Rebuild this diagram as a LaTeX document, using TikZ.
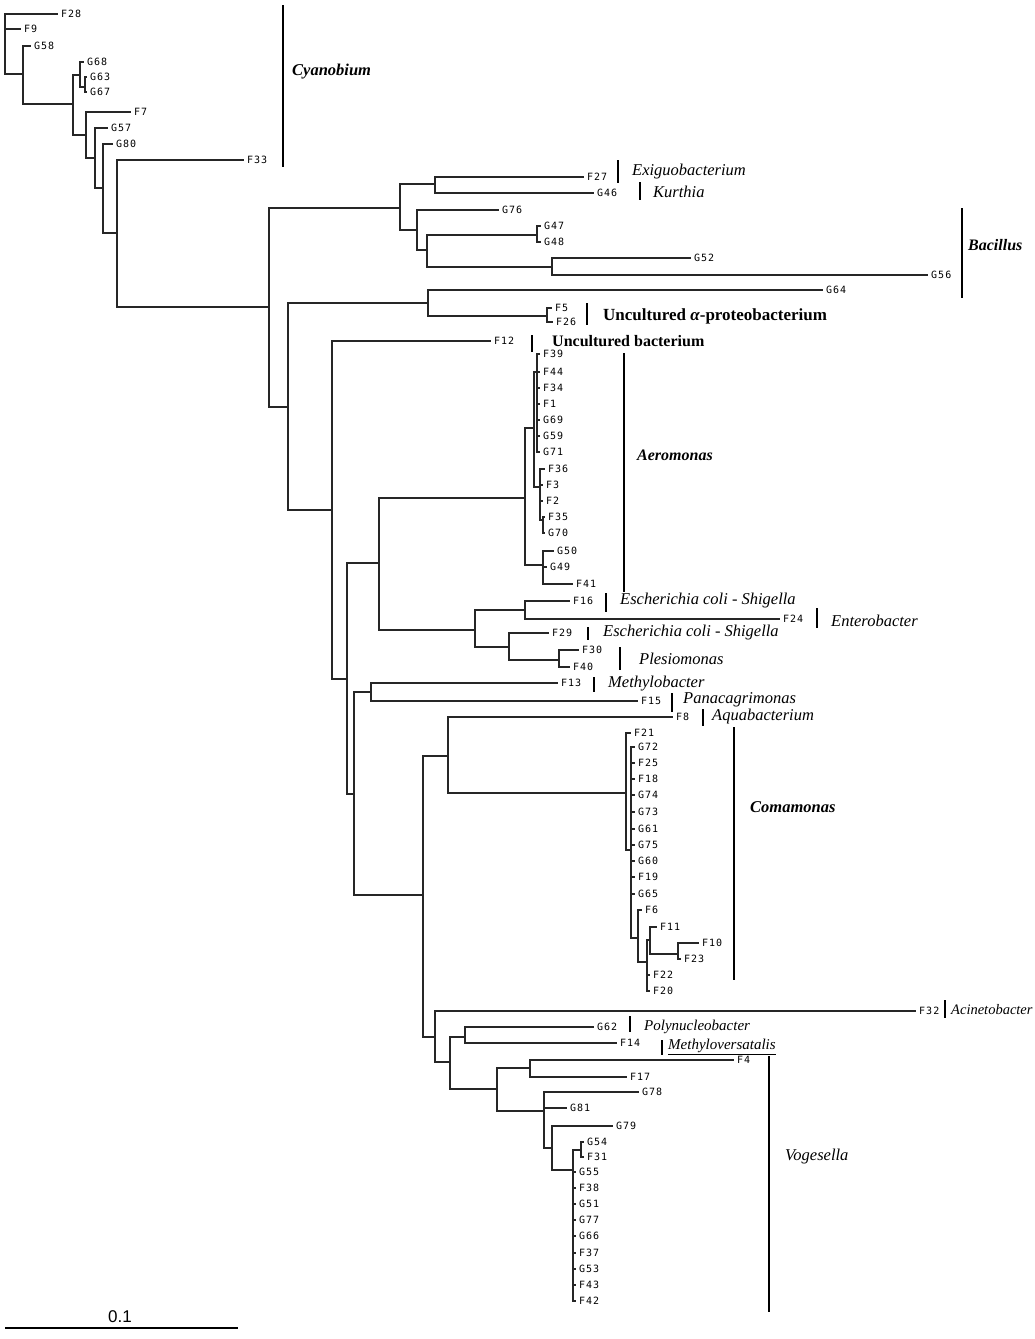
\documentclass[tikz,border=0pt]{standalone}
\usepackage{fontspec}
\setmainfont{Liberation Serif}
\newfontfamily\tipfont[LetterSpace=10]{DejaVu Sans Mono}
\newfontfamily\sclfont{Liberation Sans}
\begin{document}
\begin{tikzpicture}[x=1pt,y=-1pt,
  br/.style={line width=1.2pt,line cap=rect,line join=miter,draw=black!85},
  gbar/.style={line width=2.6pt},
  tiplab/.style={anchor=west,inner sep=0pt,xshift=4pt,text=black,font=\tipfont\fontsize{10}{10}\selectfont},
  gen/.style={anchor=west,inner sep=0pt,font=\fontsize{16.5}{16.5}\selectfont\itshape},
  gens/.style={anchor=west,inner sep=0pt,font=\fontsize{15}{15}\selectfont\itshape},
  genb/.style={anchor=west,inner sep=0pt,font=\fontsize{16.5}{16.5}\selectfont\bfseries\itshape},
  unc/.style={anchor=west,inner sep=0pt,font=\fontsize{16.5}{16.5}\selectfont\bfseries}]
\useasboundingbox[fill=white] (0,0) rectangle (1035,1339);

% internal nodes
\foreach \n/\x/\y in {N117/117/233,N103/103/233,N95/95/188,N86/86/158,N73/73/135,N80/80/75,N86b/85/87,N23/23/104,N5/5/74,
  N269/269/307,N400/400/208,N435/435/184,N417/417/230,N427/427/250,N537/537/235,N552/552/267,
  N288/288/407,N428/428/303,N547/547/316,N332/332/510,N347/347/679,N379/379/563,
  NAer/525/498,N534/534/428,N537a/537/372,N540/540/487,N543/543/520,N543b/543/565,
  NEsch/475/630,N525/525/610,N509/509/647,N559/559/660,
  N354/354/794,N371/371/692,N423/423/895,N448/448/756,
  NCom/626/793,N631/631/850,N638/638/938,N647/647/962,N650/650/940,N678/678/954,
  N435b/435/1037,N450/450/1062,N465/465/1037,N497/497/1089,N530/530/1068,N544/544/1111,N552b/552/1148,N573/573/1170,N581/581/1150}
  {\coordinate (\n) at (\x,\y);}

% tips with labels
\foreach \n/\x/\y in {F28/57/14,F9/20/29,G58/30/46,G68/83/62,G63/86/77,G67/86/92,F7/130/112,G57/107/128,G80/112/144,F33/243/160,
  F27/583/177,G46/593/193,G76/498/210,G47/540/226,G48/540/242,G52/690/258,G56/927/275,G64/822/290,F5/551/308,F26/552/322,
  F12/490/341,
  F39/539/354,F44/539/372,F34/539/388,F1/539/404,G69/539/420,G59/539/436,G71/539/452,
  F36/544/469,F3/542/485,F2/542/501,F35/544/517,G70/544/533,G50/553/551,G49/546/567,F41/572/584,
  F16/569/601,F24/779/619,F29/548/633,F30/578/650,F40/569/667,
  F13/557/683,F15/637/701,F8/672/717,
  F21/630/733,G72/634/747,F25/634/763,F18/634/779,G74/634/795,G73/634/812,G61/634/829,G75/634/845,G60/634/861,F19/634/877,G65/634/894,
  F6/641/910,F11/656/927,F10/698/943,F23/680/959,F22/649/975,F20/649/991,
  F32/915/1011,G62/593/1027,F14/616/1043,F4/733/1060,F17/626/1077,G78/638/1092,G81/566/1108,G79/612/1126,
  G54/583/1142,F31/583/1157,G55/575/1172,F38/575/1188,G51/575/1204,G77/575/1220,G66/575/1236,F37/575/1253,G53/575/1269,F43/575/1285,F42/575/1301}
  {\coordinate (\n) at (\x,\y); \node[tiplab] (l\n) at (\n) {\n};}

% branches
\foreach \a/\b in {N117/F33,N117/N103,N117/N269,N103/G80,N103/N95,N95/G57,N95/N86,N86/F7,N86/N73,N73/N80,N73/N23,
  N80/G68,N80/N86b,N86b/G63,N86b/G67,N23/G58,N23/N5,N5/F28,N5/F9,
  N269/N400,N269/N288,N400/N435,N400/N417,N435/F27,N435/G46,N417/G76,N417/N427,N427/N537,N427/N552,N537/G47,N537/G48,N552/G52,N552/G56,
  N288/N428,N288/N332,N428/G64,N428/N547,N547/F5,N547/F26,N332/F12,N332/N347,N347/N379,N347/N354,N379/NAer,N379/NEsch,
  NAer/N534,NAer/N543b,N534/N537a,N534/N540,N537a/F39,N537a/F44,N537a/F34,N537a/F1,N537a/G69,N537a/G59,N537a/G71,
  N540/F36,N540/F3,N540/F2,N540/N543,N543/F35,N543/G70,N543b/G50,N543b/G49,N543b/F41,
  NEsch/N525,NEsch/N509,N525/F16,N525/F24,N509/F29,N509/N559,N559/F30,N559/F40,
  N354/N371,N354/N423,N371/F13,N371/F15,N423/N448,N423/N435b,N448/F8,N448/NCom,
  NCom/F21,NCom/N631,N631/G72,N631/F25,N631/F18,N631/G74,N631/G73,N631/G61,N631/G75,N631/G60,N631/F19,N631/G65,N631/N638,
  N638/F6,N638/N647,N647/N650,N647/F22,N647/F20,N650/F11,N650/N678,N678/F10,N678/F23,
  N435b/F32,N435b/N450,N450/N465,N450/N497,N465/G62,N465/F14,N497/N530,N497/N544,N530/F4,N530/F17,
  N544/G78,N544/G81,N544/N552b,N552b/G79,N552b/N573,N573/N581,N581/G54,N581/F31,
  N573/G55,N573/F38,N573/G51,N573/G77,N573/G66,N573/F37,N573/G53,N573/F43,N573/F42}
  {\draw[br] (\a) |- (\b);}

% group bars and names
\draw[gbar] (283,5) -- (283,167);   \node[genb] (tCyan) at (292,72) {Cyanobium};
\draw[gbar] (618,160) -- (618,183); \node[gen] (tExig) at (632,172) {Exiguobacterium};
\draw[gbar] (640,182) -- (640,200); \node[gen] (tKurt) at (653,192) {Kurthia};
\draw[gbar] (962,208) -- (962,298); \node[genb,font=\fontsize{16}{16}\selectfont\bfseries\itshape] (tBac) at (968,245) {Bacillus};
\draw[gbar] (587,303) -- (587,325); \node[unc,font=\fontsize{17}{17}\selectfont\bfseries] (tUa) at (603,316) {Uncultured \textit{α}-proteobacterium};
\draw[gbar] (532,335) -- (532,352); \node[unc,font=\fontsize{16}{16}\selectfont\bfseries] (tUb) at (552,341) {Uncultured bacterium};
\draw[gbar] (624,353) -- (624,592); \node[genb,font=\fontsize{16}{16}\selectfont\bfseries\itshape] (tAer) at (637,455) {Aeromonas};
\draw[gbar] (606,593) -- (606,612); \node[gen] (tEs1) at (620,601) {Escherichia coli - Shigella};
\draw[gbar] (817,608) -- (817,628); \node[gen] (tEnt) at (831,621) {Enterobacter};
\draw[gbar] (588,627) -- (588,640); \node[gen] (tEs2) at (603,633) {Escherichia coli - Shigella};
\draw[gbar] (620,647) -- (620,670); \node[gen] (tPle) at (639,659) {Plesiomonas};
\draw[gbar] (594,677) -- (594,692); \node[gen] (tMet) at (608,684) {Methylobacter};
\draw[gbar] (672,693) -- (672,712); \node[gen] (tPan) at (683,700) {Panacagrimonas};
\draw[gbar] (703,709) -- (703,726); \node[gen] (tAqu) at (712,717) {Aquabacterium};
\draw[gbar] (734,727) -- (734,980); \node[genb] (tCom) at (750,807) {Comamonas};
\draw[gbar] (945,1000) -- (945,1018); \node[gens,font=\fontsize{14.5}{14.5}\selectfont\itshape] (tAci) at (951,1010) {Acinetobacter};
\draw[gbar] (630,1016) -- (630,1032); \node[gens] (tPol) at (644,1027) {Polynucleobacter};
\draw[gbar] (662,1040) -- (662,1055); \node[gens] (tMvs) at (668,1047) {\underline{Methyloversatalis}};
\draw[gbar] (769,1056) -- (769,1312); \node[gen] (tVog) at (785,1157) {Vogesella};

% scale bar
\coordinate (sb1) at (5,1328); \coordinate (sb2) at (238,1328);
\draw[line width=1.2pt] (sb1) -- (sb2);
\node[font=\sclfont\fontsize{17}{17}\selectfont,inner sep=0pt] (sbl) at (120,1317) {0.1};
\end{tikzpicture}
\end{document}
